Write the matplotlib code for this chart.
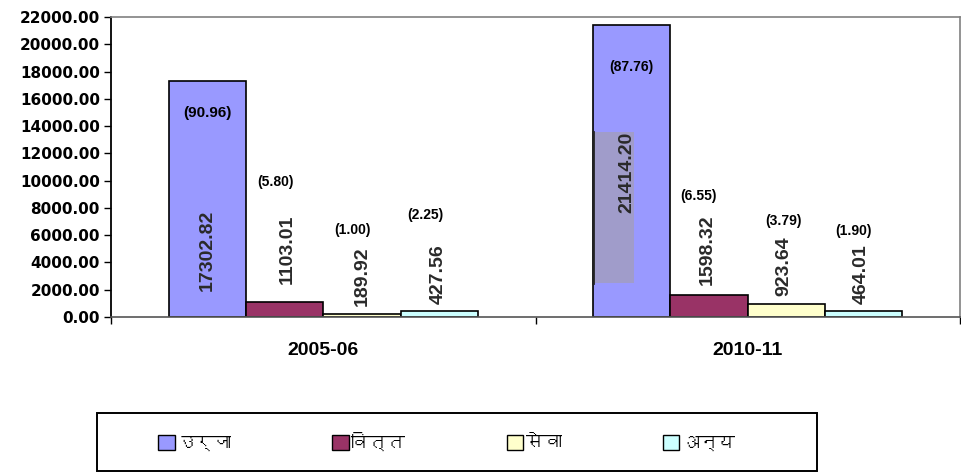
import matplotlib
matplotlib.use("Agg")
import matplotlib.pyplot as plt
from matplotlib import font_manager as fm
from matplotlib.patches import Patch, Rectangle
from matplotlib.ticker import FuncFormatter
import numpy as np

# ---------------- data ----------------
years = ["2005-06", "2010-11"]
sectors = ["उर्जा", "वित्त", "सेवा", "अन्य"]
urja = [17302.82, 21414.20]
vitta = [1103.01, 1598.32]
seva = [189.92, 923.64]
anya = [427.56, 464.01]
pct_urja = [90.96, 87.76]
pct_vitta = [5.80, 6.55]
pct_seva = [1.00, 3.79]
pct_anya = [2.25, 1.90]
yticks = [0, 2000, 4000, 6000, 8000, 10000, 12000, 14000, 16000, 18000, 20000, 22000]

# ---------------- style ----------------
colors = ["#9999FF", "#993366", "#FFFFCC", "#CCFFFF"]

def find_deva_font():
    try:
        from fontTools.ttLib import TTFont
    except Exception:
        return None
    prefs = []
    for f in fm.fontManager.ttflist:
        try:
            tt = TTFont(f.fname, fontNumber=0, lazy=True)
            cmap = tt.getBestCmap()
            if cmap and 0x0909 in cmap and 0x0930 in cmap:
                prefs.append(f.name)
        except Exception:
            continue
    return prefs[0] if prefs else None

deva = find_deva_font()
legend_family = [deva, "DejaVu Sans"] if deva else ["DejaVu Sans"]

plt.rcParams["font.family"] = ["Liberation Sans", "DejaVu Sans"]

fig = plt.figure(figsize=(9.61, 4.74), dpi=100)
ax = fig.add_axes([111 / 961, 1 - 317 / 474, (960 - 111) / 961, 300 / 474])

series = [urja, vitta, seva, anya]
pcts = [pct_urja, pct_vitta, pct_seva, pct_anya]
n = len(series)
bw = 0.182
x = np.arange(len(years))
offsets = (np.arange(n) - (n - 1) / 2) * bw

for i, (vals, c) in enumerate(zip(series, colors)):
    ax.bar(x + offsets[i], vals, width=bw, color=c, edgecolor="black",
           linewidth=1.2, label=sectors[i], zorder=2)

ax.set_xlim(-0.5, len(years) - 0.5)
ax.set_ylim(0, 22000)
ax.set_yticks(yticks)
ax.yaxis.set_major_formatter(FuncFormatter(lambda v, p: f"{v:.2f}"))
for lab in ax.get_yticklabels():
    lab.set_fontfamily("DejaVu Sans")
    lab.set_fontweight("bold")
    lab.set_fontsize(11)
ax.tick_params(axis="y", direction="out", length=5, width=1, pad=3, colors="black")

# x ticks at category boundaries, labels at centers
ax.set_xticks([-0.5, 0.5, 1.5])
ax.set_xticklabels([])
ax.set_xticks(x, minor=True)
ax.set_xticklabels(years, minor=True, fontsize=14, fontweight="bold")
ax.tick_params(axis="x", which="major", direction="out", length=5, width=1, color="black")
ax.tick_params(axis="x", which="minor", length=0, pad=18)

for s in ["top", "right"]:
    ax.spines[s].set_color("#808080")
    ax.spines[s].set_linewidth(1.2)
ax.spines["left"].set_color("black")
ax.spines["left"].set_linewidth(1.3)
ax.spines["bottom"].set_color("#555555")
ax.spines["bottom"].set_linewidth(1.2)

# ---- value labels (rotated) ----
# label centre heights (data units), layout only
val_label_y = [[4910, 10630], [4990, 4910], [3010, 3740], [3150, 3150]]
val_label_dx = [[0.0, -0.012], [0.007, -0.005], [0.0, -0.007], [-0.002, -0.005]]
for i in range(n):
    for j in range(len(years)):
        ax.text(x[j] + offsets[i] + val_label_dx[i][j], val_label_y[i][j],
                f"{series[i][j]:.2f}", rotation=90, ha="center", va="center",
                fontsize=14, fontweight="bold", color="#2a2a2a", zorder=4)

# grey shading artefact behind the 2010-11 energy label
ax.add_patch(Rectangle((x[1] + offsets[0] - bw / 2, 2500), 0.097, 11100,
                       facecolor="#A09CCA", edgecolor="none", zorder=3))
ax.plot([x[1] + offsets[0] - bw / 2] * 2, [2500, 13600], color="#222222",
        lw=2, zorder=3.5)

# ---- percentage labels ----
pct_label_y = [[14960, 18330], [9900, 8870], [6380, 7040], [7480, 6310]]
pct_label_dx = [[0.0, 0.0], [-0.021, -0.026], [-0.023, -0.007], [-0.033, -0.023]]
for i in range(n):
    for j in range(len(years)):
        fs = 11 if (i == 0 and j == 0) else 10
        ax.text(x[j] + offsets[i] + pct_label_dx[i][j], pct_label_y[i][j],
                f"({pcts[i][j]:.2f})", ha="center", va="center",
                fontsize=fs, fontweight="bold", color="black", zorder=4)

# ---- legend ----
fig.patches.append(Rectangle((97 / 961, 1 - 471 / 474), (817 - 97) / 961, 58 / 474,
                             transform=fig.transFigure, facecolor="white",
                             edgecolor="black", linewidth=1.4, zorder=0))
handles = [Patch(facecolor=c, edgecolor="black", linewidth=1) for c in colors]
leg = fig.legend(handles, sectors, loc="center", ncol=4,
                 bbox_to_anchor=(447 / 961, 1 - 441 / 474),
                 frameon=False, columnspacing=5.6,
                 handlelength=0.9, handleheight=0.9, handletextpad=0.15,
                 borderaxespad=0,
                 prop={"family": legend_family, "size": 13})

fig.savefig("out.png", dpi=100)
